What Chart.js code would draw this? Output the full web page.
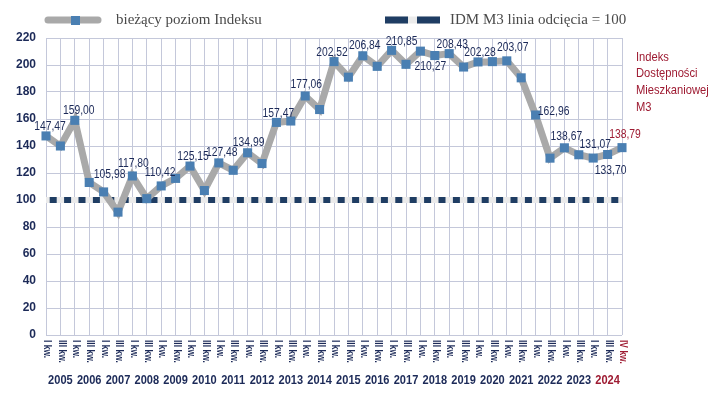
<!DOCTYPE html>
<html>
<head>
<meta charset="utf-8">
<script src="https://cdn.jsdelivr.net/npm/chart.js@4"></script>
<style>
    html, body { margin: 0; padding: 0; background: #ffffff; }
    #wrap { width: 715px; height: 395px; position: relative; }
</style>
</head>
<body>
<div id="wrap"><canvas id="chart" width="715" height="395"></canvas></div>
<script>
// --- data ---
const years = [2005, 2006, 2007, 2008, 2009, 2010, 2011, 2012, 2013, 2014,
               2015, 2016, 2017, 2018, 2019, 2020, 2021, 2022, 2023, 2024];
const quarterLabels = years.flatMap(y => ['I kw.', 'III kw.']).concat(['IV kw.']);

const indexValues = [
    147.47, 140.0, 159.00, 113.0, 105.98, 91.0, 117.80, 101.0, 110.42, 116.0,
    125.15, 107.0, 127.48, 122.0, 134.99, 127.0, 157.47, 158.5, 177.06, 167.0,
    202.52, 191.0, 206.84, 199.0, 210.85, 200.5, 210.27, 207.0, 208.43, 198.5,
    202.28, 202.5, 203.07, 190.5, 162.96, 131.0, 138.67, 133.5, 131.07, 133.70,
    138.79
];
const cutoffLevel = 100;
const cutoffValues = quarterLabels.map(() => cutoffLevel);

// points that carry a value label
const labelledPoints = [0, 2, 4, 6, 8, 10, 12, 14, 16, 18, 20, 22, 24, 26, 28, 30, 32, 34, 36, 38, 39, 40];

const yTicks = [0, 20, 40, 60, 80, 100, 120, 140, 160, 180, 200, 220];

const legendIndex = 'bieżący poziom Indeksu';
const legendCutoff = 'IDM M3 linia odcięcia = 100';
const sideTitle = ['Indeks', 'Dostępności', 'Mieszkaniowej', 'M3'];

// --- style ---
const COLORS = {
    line: '#a9a9a9',
    point: '#4a7fb2',
    navy: '#1f3d63',
    band: '#ebebeb',
    grid: '#c4c8da',
    text: '#1c2a58',
    red: '#9e1b32',
    legend: '#4a4a4a'
};
const SANS = '"Liberation Sans", Arial, sans-serif';
const SERIF = '"Liberation Serif", "DejaVu Serif", serif';

// label offsets from the point (text centre), per labelled point
const labelOffsets = {
    0: [4, -9], 2: [4, -10], 4: [6, -17], 6: [1, -12], 8: [-1, -13], 10: [3, -9],
    12: [3, -10], 14: [1, -10], 16: [2, -9], 18: [1, -11], 20: [-2, -9], 22: [2, -10],
    24: [10, -9], 26: [10, 16], 28: [3, -9], 30: [2, -9], 32: [6, -13], 34: [18, -3],
    36: [2, -11], 38: [2, -13], 39: [3, 16], 40: [3, -13]
};

const fmt = v => v.toFixed(2).replace('.', ',');

// no narrow font installed: squeeze the text horizontally
function narrowText(ctx, text, x, y, sx) {
    ctx.save();
    ctx.translate(x, y);
    ctx.scale(sx, 1);
    ctx.fillText(text, 0, 0);
    ctx.restore();
}

const decorPlugin = {
    id: 'decor',
    afterDatasetsDraw(chart) {
        const ctx = chart.ctx;
        const xs = chart.scales.x;
        const meta = chart.getDatasetMeta(1);
        const last = quarterLabels.length - 1;

        // value labels
        ctx.save();
        ctx.font = '12px ' + SANS;
        ctx.textAlign = 'center';
        ctx.textBaseline = 'middle';
        labelledPoints.forEach(i => {
            const p = meta.data[i];
            const off = labelOffsets[i] || [0, -10];
            ctx.fillStyle = i === last ? COLORS.red : COLORS.text;
            narrowText(ctx, fmt(indexValues[i]), p.x + off[0], p.y + off[1], 0.86);
        });
        ctx.restore();

        // rotated quarter labels
        ctx.save();
        ctx.font = 'bold 10px ' + SANS;
        ctx.textAlign = 'left';
        ctx.textBaseline = 'middle';
        quarterLabels.forEach((lab, i) => {
            const x = xs.getPixelForValue(i);
            ctx.save();
            ctx.translate(x + 1, chart.chartArea.bottom + 5);
            ctx.rotate(Math.PI / 2);
            ctx.scale(0.85, 1);
            ctx.fillStyle = i === last ? COLORS.red : COLORS.text;
            ctx.fillText(lab, 0, 0);
            ctx.restore();
        });
        ctx.restore();

        // years, centred on the III kw. tick
        ctx.save();
        ctx.font = 'bold 12px ' + SANS;
        ctx.textAlign = 'center';
        ctx.textBaseline = 'middle';
        years.forEach((yr, k) => {
            const x = xs.getPixelForValue(2 * k + 1);
            ctx.fillStyle = yr === 2024 ? COLORS.red : COLORS.text;
            narrowText(ctx, String(yr), x, 381, 0.92);
        });
        ctx.restore();

        // legend
        ctx.save();
        ctx.lineCap = 'round';
        ctx.lineWidth = 7;
        ctx.strokeStyle = COLORS.line;
        ctx.beginPath(); ctx.moveTo(48, 20); ctx.lineTo(98, 20); ctx.stroke();
        ctx.fillStyle = COLORS.point;
        ctx.fillRect(71, 16, 9, 9);
        ctx.lineCap = 'butt';
        ctx.strokeStyle = COLORS.band;
        ctx.beginPath(); ctx.moveTo(385, 20); ctx.lineTo(440, 20); ctx.stroke();
        ctx.strokeStyle = COLORS.navy;
        ctx.beginPath(); ctx.moveTo(385, 20); ctx.lineTo(408, 20); ctx.moveTo(417, 20); ctx.lineTo(440, 20); ctx.stroke();
        ctx.font = '15px ' + SERIF;
        ctx.fillStyle = COLORS.legend;
        ctx.textBaseline = 'middle';
        ctx.textAlign = 'left';
        ctx.fillText(legendIndex, 116, 20);
        ctx.fillText(legendCutoff, 450, 20);
        ctx.restore();

        // side title
        ctx.save();
        ctx.font = '13px ' + SANS;
        ctx.fillStyle = COLORS.red;
        ctx.textBaseline = 'middle';
        ctx.textAlign = 'left';
        sideTitle.forEach((t, i) => narrowText(ctx, t, 636, 57 + i * 16.7, 0.86));
        ctx.restore();
    }
};

new Chart(document.getElementById('chart'), {
    type: 'line',
    data: {
        labels: quarterLabels,
        datasets: [
            {
                label: legendCutoff,
                data: cutoffValues,
                borderColor: COLORS.navy,
                borderWidth: 6,
                borderDash: [7, 7.4],
                borderDashOffset: 10.7,
                pointRadius: 0,
                order: 2
            },
            {
                label: legendIndex,
                data: indexValues,
                borderColor: COLORS.line,
                borderWidth: 7,
                tension: 0,
                pointStyle: 'rect',
                pointRadius: 6.4,
                pointBackgroundColor: COLORS.point,
                pointBorderWidth: 0,
                clip: false,
                order: 1
            }
        ]
    },
    options: {
        responsive: false,
        animation: false,
        layout: { padding: { top: 38, right: 93, left: 0, bottom: 0 } },
        plugins: {
            legend: { display: false },
            tooltip: { enabled: false }
        },
        scales: {
            x: {
                offset: false,
                grid: { color: COLORS.grid, drawTicks: false },
                border: { display: false },
                ticks: { display: false },
                afterFit: s => { s.height = 60; }
            },
            y: {
                min: 0,
                max: 220,
                grid: { color: COLORS.grid, drawTicks: false },
                border: { display: false },
                ticks: {
                    stepSize: 10,
                    padding: 10,
                    color: COLORS.text,
                    font: { size: 12, weight: 'bold', family: SANS },
                    callback: v => yTicks.includes(v) ? String(v) : ''
                },
                afterFit: s => { s.width = 46; }
            }
        }
    },
    plugins: [
        {
            id: 'band',
            beforeDatasetsDraw(chart) {
                // light band under the dashed cut-off line
                const ctx = chart.ctx;
                const y = chart.scales.y.getPixelForValue(cutoffLevel);
                ctx.save();
                ctx.strokeStyle = COLORS.band;
                ctx.lineWidth = 6;
                ctx.beginPath();
                ctx.moveTo(chart.chartArea.left, y);
                ctx.lineTo(chart.chartArea.right, y);
                ctx.stroke();
                ctx.restore();
            }
        },
        decorPlugin
    ]
});
</script>
</body>
</html>
